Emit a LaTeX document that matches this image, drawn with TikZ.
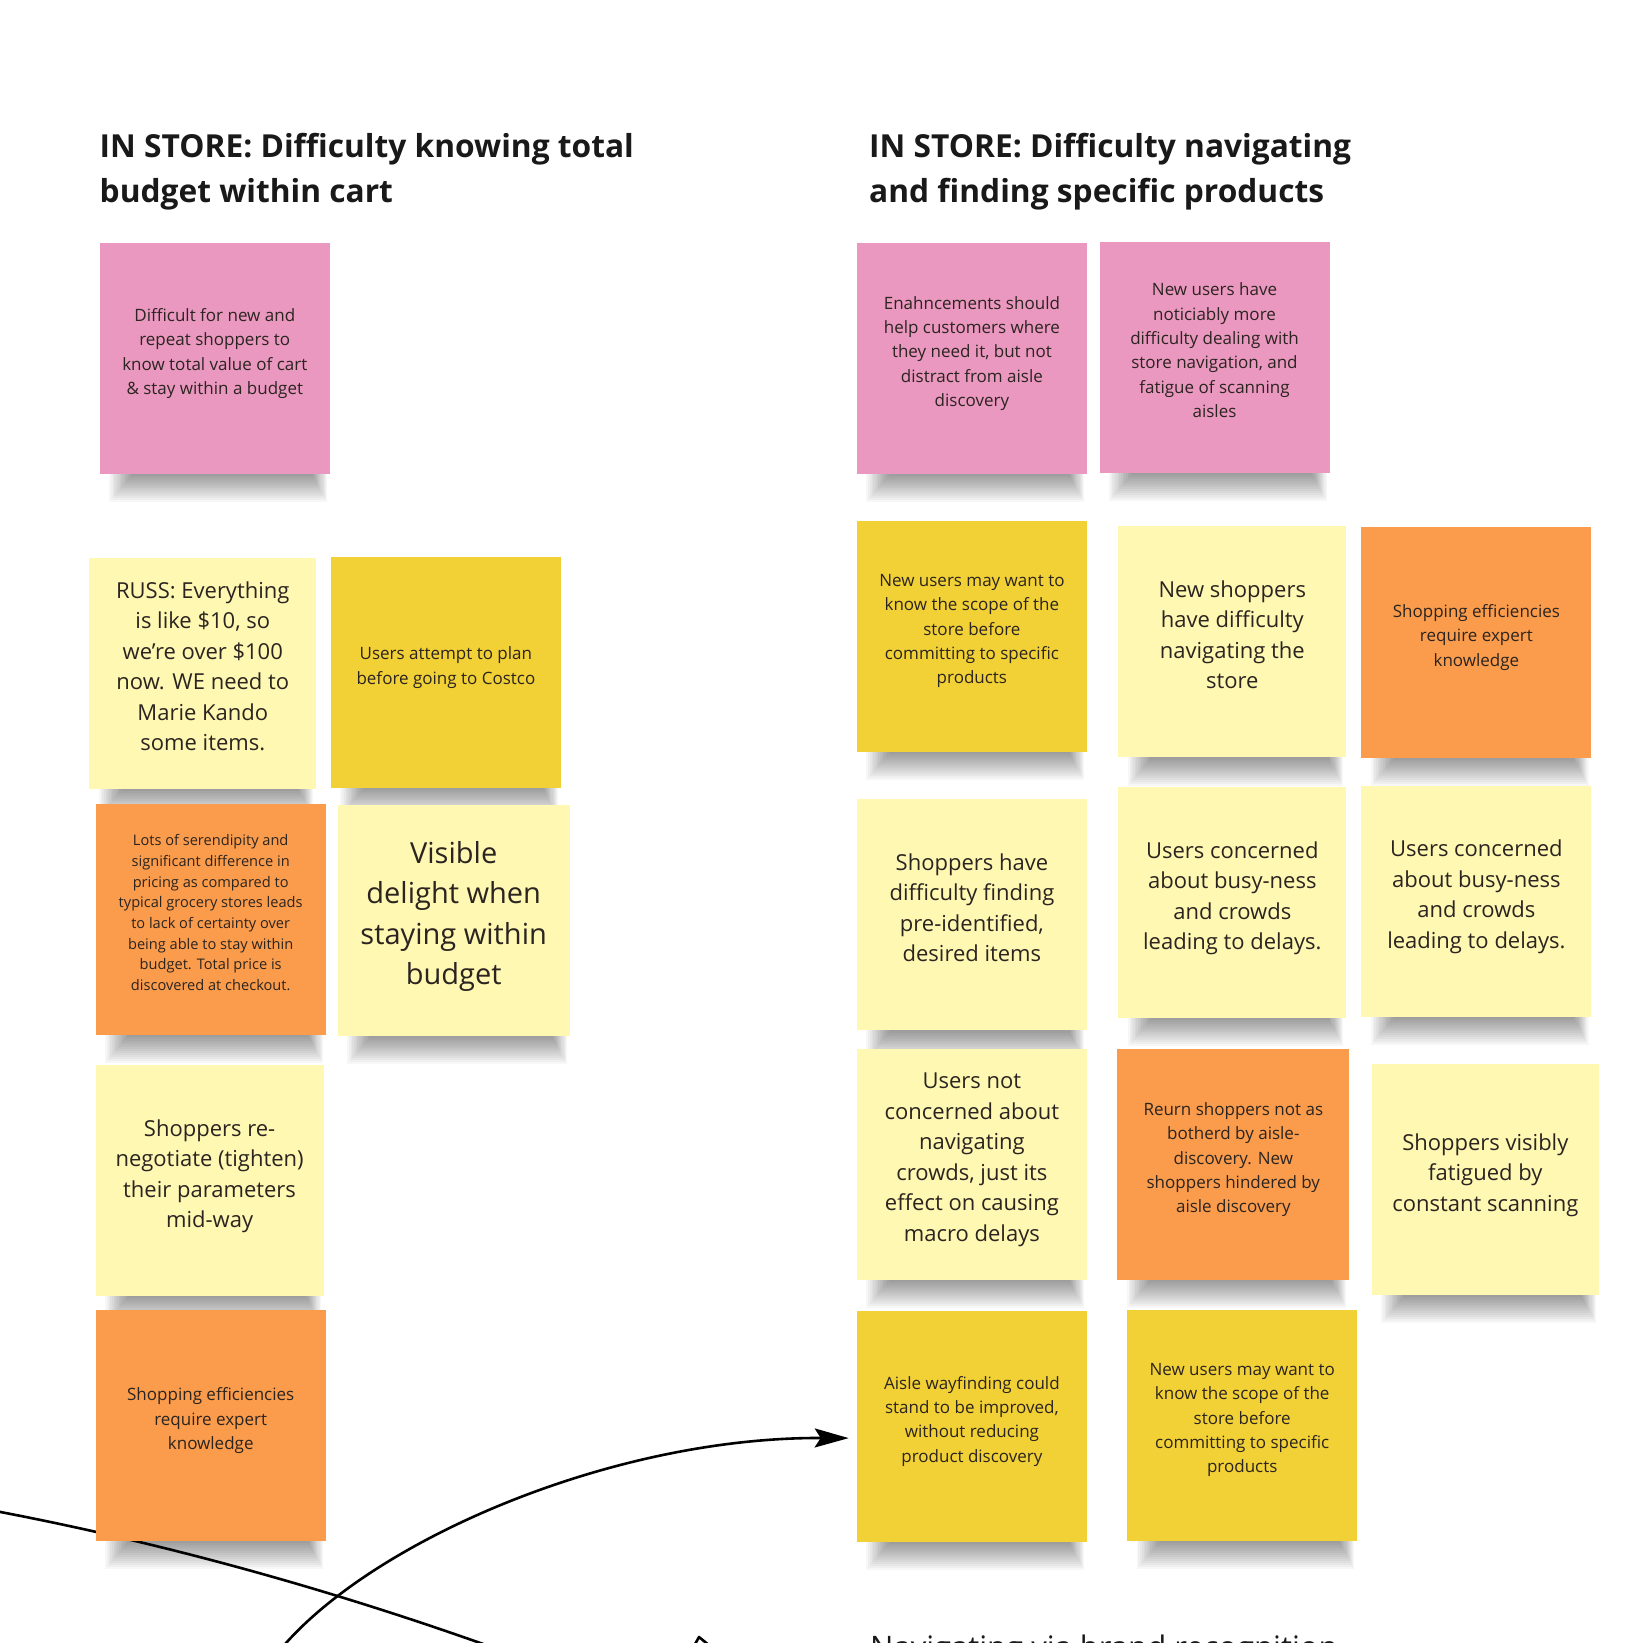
\documentclass[tikz,border=0pt]{standalone}
\usepackage{fontspec}
\setmainfont{Open Sans}
\usepackage{xcolor}
\usepackage{tikz}
\usetikzlibrary{arrows.meta, calc, backgrounds}

\definecolor{pinknote}{HTML}{EA98BF}
\definecolor{paleyellow}{HTML}{FEF8B3}
\definecolor{goldnote}{HTML}{F2D137}
\definecolor{orangenote}{HTML}{FA9C4B}
\definecolor{inktext}{HTML}{2B2420}

\begin{document}
\begin{tikzpicture}[x=1pt, y=-1pt,
    note/.style={rectangle, minimum width=230pt, minimum height=231pt, inner sep=0pt, align=center, text depth=14pt, text=inktext},
    tinytxt/.style={font=\fontsize{14.6}{20.7}\selectfont},
    smalltxt/.style={font=\fontsize{17}{24.4}\selectfont},
    midtxt/.style={font=\fontsize{22}{30.5}\selectfont},
    bigtxt/.style={font=\fontsize{29}{40.5}\selectfont},
    heading/.style={anchor=north west, inner sep=0pt, align=left, font=\fontsize{31.7}{45}\selectfont\bfseries, text=black!90},
    connector/.style={line width=2.6pt, black}]
    \useasboundingbox (0,0) rectangle (1643,1643);
    \clip (0,0) rectangle (1643,1643);

    % headings
    \node (BudgetTitle) [heading] at (99.5,132.7) {IN STORE: Difficulty knowing total\\budget within cart};
    \node (NavTitle) [heading] at (869,132.7) {IN STORE: Difficulty navigating\\and finding specific products};

    % left cluster
    \node (BudgetPain) [note, smalltxt, fill=pinknote] at (214.8,358.4) {Difficult for new and\\repeat shoppers to\\know total value of cart\\\& stay within a budget};
    \node (RussQuote) [note, midtxt, fill=paleyellow, minimum width=227pt] at (202.8,673.3) {RUSS: Everything\\is like \$10, so\\we're over \$100\\now. WE need to\\Marie Kando\\some items.};
    \node (PlanAhead) [note, smalltxt, fill=goldnote] at (445.9,672.7) {Users attempt to plan\\before going to Costco};
    \node (Serendipity) [note, tinytxt, fill=orangenote] at (210.7,919.5) {Lots of serendipity and\\significant difference in\\pricing as compared to\\typical grocery stores leads\\to lack of certainty over\\being able to stay within\\budget. Total price is\\discovered at checkout.};
    \node (VisibleDelight) [note, bigtxt, fill=paleyellow, minimum width=232pt] at (453.7,920) {Visible\\delight when\\staying within\\budget};
    \node (Renegotiate) [note, midtxt, fill=paleyellow, minimum width=228pt] at (209.6,1180.4) {Shoppers re-\\negotiate (tighten)\\their parameters\\mid-way};
    \node (ExpertLeft) [note, smalltxt, fill=orangenote] at (210.7,1425.6) {Shopping efficiencies\\require expert\\knowledge};

    % right cluster
    \node (EnhanceHelp) [note, smalltxt, fill=pinknote] at (971.9,358.4) {Enahncements should\\help customers where\\they need it, but not\\distract from aisle\\discovery};
    \node (NewUsersNav) [note, smalltxt, fill=pinknote] at (1214.5,357.3) {New users have\\noticiably more\\difficulty dealing with\\store navigation, and\\fatigue of scanning\\aisles};
    \node (ScopeFirst) [note, smalltxt, fill=goldnote] at (971.9,636.1) {New users may want to\\know the scope of the\\store before\\committing to specific\\products};
    \node (NavStore) [note, midtxt, fill=paleyellow, minimum width=228pt] at (1232.3,641.8) {New shoppers\\have difficulty\\navigating the\\store};
    \node (ExpertRight) [note, smalltxt, fill=orangenote] at (1476.4,642.4) {Shopping efficiencies\\require expert\\knowledge};
    \node (FindItems) [note, midtxt, fill=paleyellow] at (971.9,914.8) {Shoppers have\\difficulty finding\\pre-identified,\\desired items};
    \node (CrowdsA) [note, midtxt, fill=paleyellow, minimum width=228pt] at (1232.3,902.7) {Users concerned\\about busy-ness\\and crowds\\leading to delays.};
    \node (CrowdsB) [note, midtxt, fill=paleyellow] at (1476.4,901.2) {Users concerned\\about busy-ness\\and crowds\\leading to delays.};
    \node (MacroDelays) [note, midtxt, fill=paleyellow] at (971.9,1164.2) {Users not\\concerned about\\navigating\\crowds, just its\\effect on causing\\macro delays};
    \node (ReturnShoppers) [note, smalltxt, fill=orangenote, minimum width=232pt] at (1233.3,1164.7) {Reurn shoppers not as\\botherd by aisle-\\discovery. New\\shoppers hindered by\\aisle discovery};
    \node (ScanFatigue) [note, midtxt, fill=paleyellow, minimum width=227pt] at (1485.3,1179.4) {Shoppers visibly\\fatigued by\\constant scanning};
    \node (Wayfinding) [note, smalltxt, fill=goldnote] at (971.9,1426.1) {Aisle wayfinding could\\stand to be improved,\\without reducing\\product discovery};
    \node (ScopeSecond) [note, smalltxt, fill=goldnote] at (1242.2,1425.1) {New users may want to\\know the scope of the\\store before\\committing to specific\\products};

    % next cluster, cut off by the frame
    \node (BrandNav) [anchor=base west, inner sep=0pt, font=\fontsize{31}{40}\selectfont, text=black!90] at (870,1658) {Navigating via brand recognition};

    \begin{scope}[on background layer]
        \clip (0,0) rectangle (1643,1643);
        \fill[white] (0,0) rectangle (1643,1643);
        % soft shadows under the notes
        \foreach \n in {BudgetPain, RussQuote, PlanAhead, Serendipity, VisibleDelight, Renegotiate, ExpertLeft,
            EnhanceHelp, NewUsersNav, ScopeFirst, NavStore, ExpertRight, FindItems, CrowdsA, CrowdsB,
            MacroDelays, ReturnShoppers, ScanFatigue, Wayfinding, ScopeSecond} {
            \foreach \k in {1,...,14}
                \fill[black, opacity=.032] ($(\n.south west)+(8+1.7*\k,-2)$) rectangle ($(\n.south east)+(-2+-1.1*\k,30-2*\k)$);
        }
        % connectors
        \coordinate (CurveLeft) at (-10,1510);
        \coordinate (CurveRight) at (500,1650);
        \coordinate (ArrowFoot) at (280,1650);
        \draw[connector] (CurveLeft) .. controls (160,1542) and (330,1589) .. (CurveRight);
        \draw[connector, -{Stealth[length=34pt, width=19pt, inset=6pt]}] (ArrowFoot) .. controls (370,1542) and (610,1437) .. ($(Wayfinding.west)+(-8,12)$);
        \draw[connector, line cap=round, line join=round] (694,1646) -- (699,1637) -- (710,1646);
    \end{scope}
\end{tikzpicture}
\end{document}
